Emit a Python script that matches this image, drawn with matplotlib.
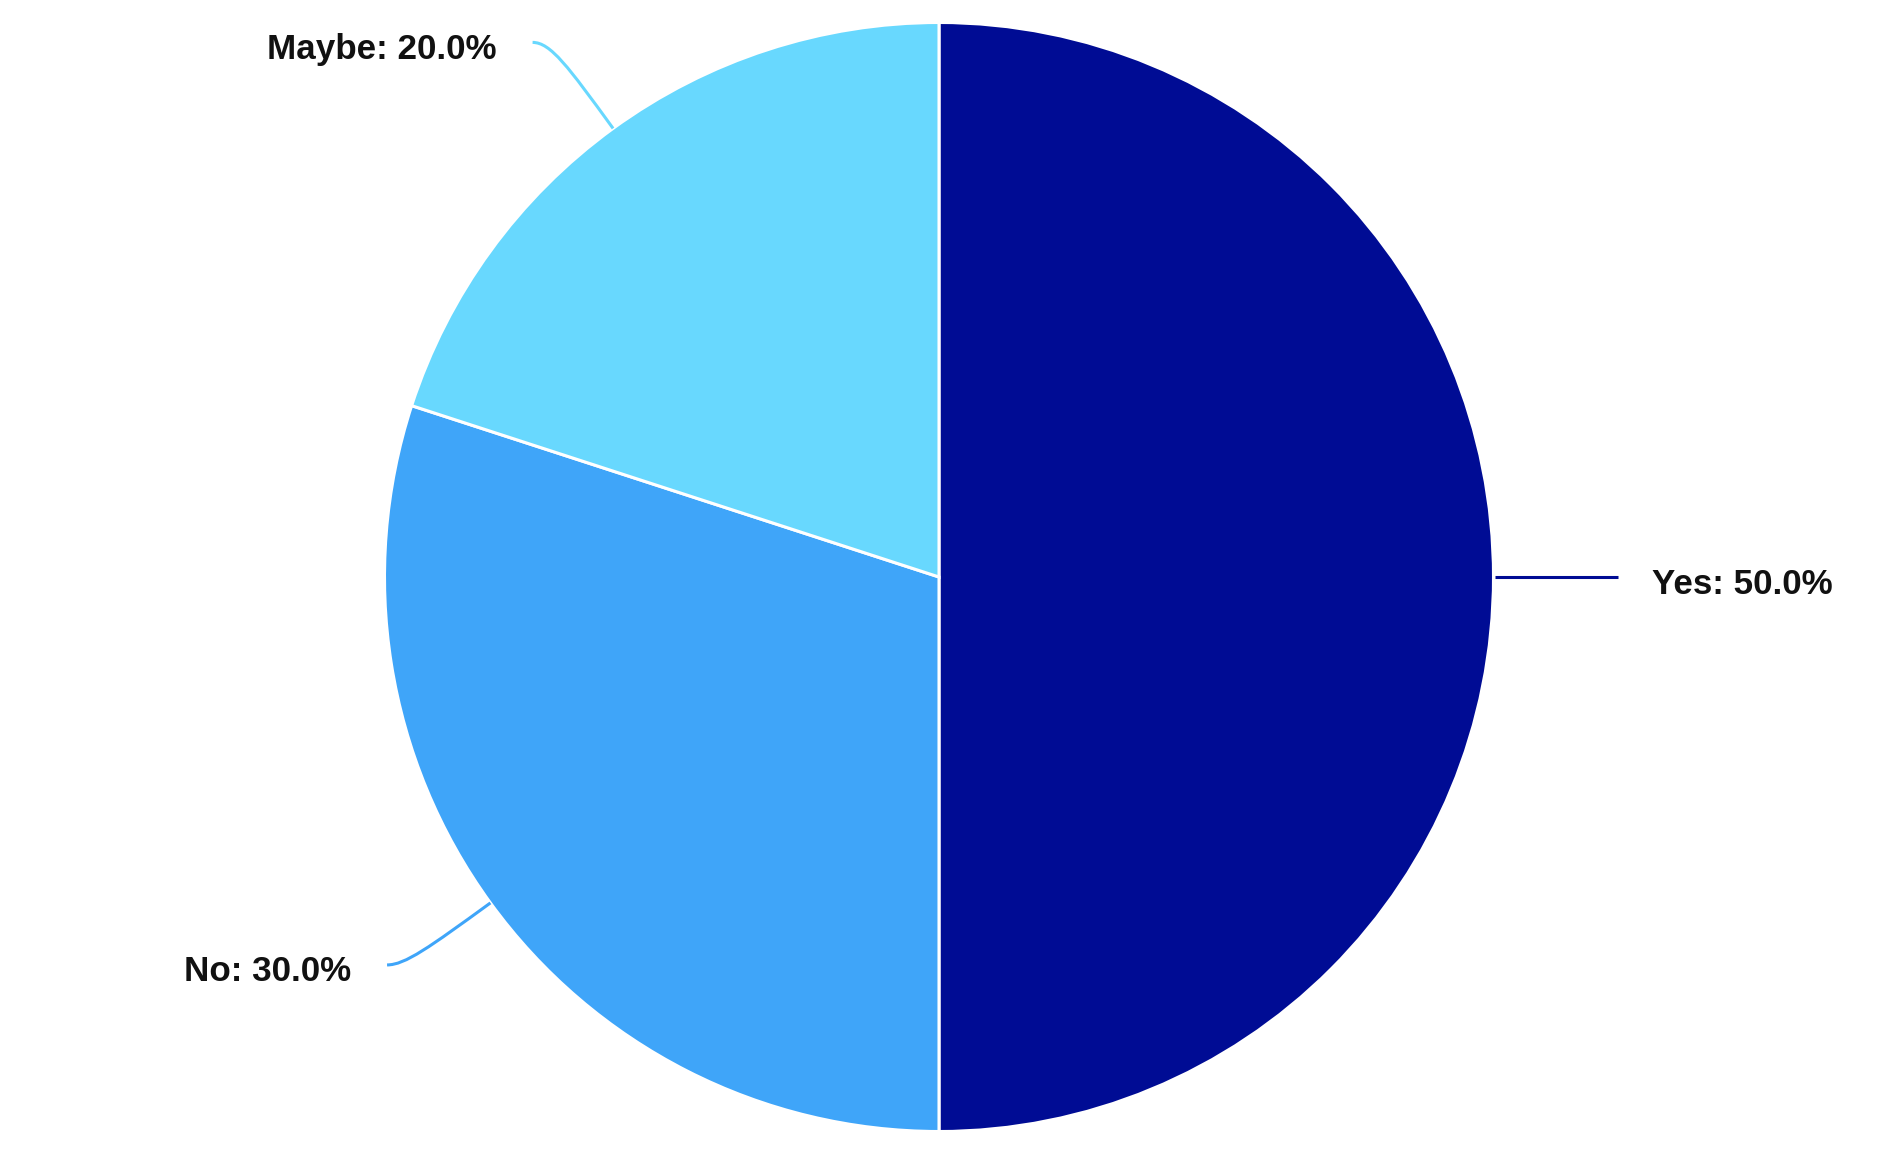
import numpy as np
import matplotlib
matplotlib.use("Agg")
import matplotlib.pyplot as plt
from matplotlib.path import Path
from matplotlib.patches import PathPatch

categories = ["Yes", "No", "Maybe"]
values = [50.0, 30.0, 20.0]
colors = ["#000C94", "#3FA5F9", "#68D8FE"]

W, H = 1888, 1156
fig = plt.figure(figsize=(W / 100, H / 100), dpi=100)
ax = fig.add_axes([0, 0, 1, 1])
ax.set_xlim(0, W)
ax.set_ylim(0, H)
ax.set_aspect("equal")
ax.axis("off")

cx, cy, R = 939.0, H - 577.0, 554.5
wedges, _ = ax.pie(values, colors=colors, startangle=90, counterclock=False,
                   center=(cx, cy), radius=R, frame=True,
                   wedgeprops=dict(edgecolor="white", linewidth=2.2))
ax.set_xlim(0, W)
ax.set_ylim(0, H)
ax.axis("off")

total = sum(values)
font = dict(family=["Liberation Sans", "DejaVu Sans"], fontweight="bold", fontsize=25.2, color="#111111")

for w, cat, val, col in zip(wedges, categories, values, colors):
    mid = np.deg2rad((w.theta1 + w.theta2) / 2)
    ex, ey = cx + R * np.cos(mid), cy + R * np.sin(mid)
    label = f"{cat}: {val / total * 100:.1f}%"
    if np.cos(mid) > 0.9:
        x_end = ex + 124
        ax.plot([ex + 1, x_end], [ey, ey], color=col, lw=2.2, solid_capstyle="butt")
        ax.text(x_end + 35, ey - 17, label, ha="left", va="baseline", **font)
    else:
        side = -1 if np.cos(mid) < 0 else 1
        dy = 86 if np.sin(mid) > 0 else 62
        ty = ey + dy * np.sign(np.sin(mid))
        t = abs((ty - ey) / np.sin(mid))
        kx = ex + t * np.cos(mid)
        end = (kx + side * 18, ty)
        p0 = (ex, ey)
        p1 = (ex + 0.72 * (kx - ex), ey + 0.72 * (ty - ey))
        p2 = (kx, ty)
        path = Path([p0, p1, p2, end], [Path.MOVETO, Path.CURVE4, Path.CURVE4, Path.CURVE4])
        ax.add_patch(PathPatch(path, fill=False, edgecolor=col, lw=2.2))
        base = ty - 17 if np.sin(mid) > 0 else ty - 16
        ax.text(end[0] - 36, base, label, ha="right", va="baseline", **font)

fig.savefig("out.png", dpi=100, facecolor="white")
